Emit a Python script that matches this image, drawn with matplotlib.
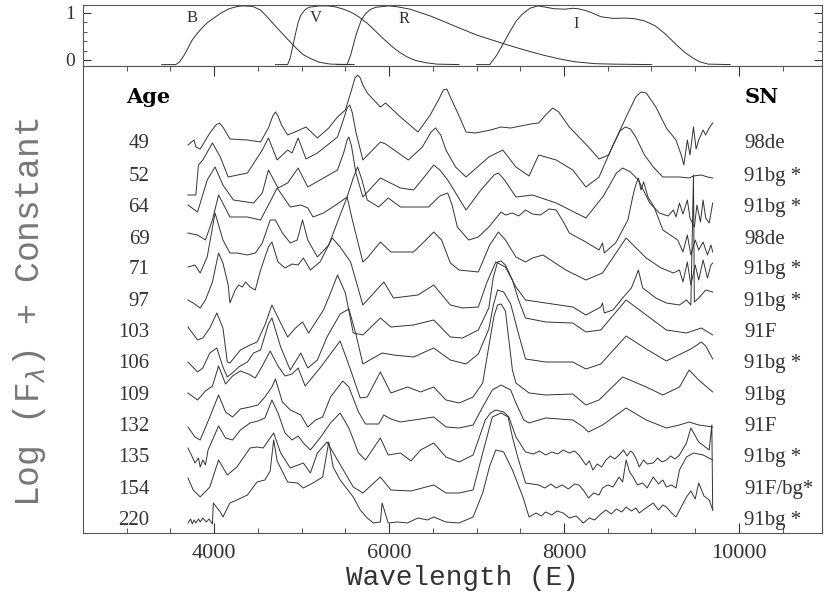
import numpy as np
import matplotlib.pyplot as plt
from matplotlib.ticker import MultipleLocator

# labels of the spectra, top to bottom
ages = ['49', '52', '64', '69', '71', '97', '103', '106', '109', '132', '135', '154', '220']
sn_names = ['98de', '91bg *', '91bg *', '98de', '91bg *', '91bg *', '91F',
            '91bg *', '91bg', '91F', '91bg *', '91F/bg*', '91bg *']
# vertical shift of each spectrum (log units)
offsets = [3.89, 3.56, 3.25, 2.93, 2.63, 2.31, 2.00, 1.69, 1.37, 1.06, 0.75, 0.43, 0.12]

# spectra: wavelength (A) and log flux (units of 0.01 dex)
wl_49 = [3700, 3770, 3790, 3840, 3950, 4020, 4060, 4100, 4180, 4380, 4530, 4620, 4670, 4700, 4730,
         4770, 4840, 4950, 5050, 5180, 5310, 5410, 5500, 5570, 5610, 5640, 5670, 5700, 5750, 5900,
         5960, 6130, 6330, 6470, 6570, 6620, 6660, 6700, 6800, 6880, 6990, 7160, 7280, 7390, 7620,
         7710, 7800, 7870, 7940, 8060, 8280, 8400, 8510, 8710, 8820, 8880, 8940, 9050, 9170, 9280,
         9340, 9370, 9410, 9440, 9480, 9510, 9540, 9590, 9620, 9660, 9700]
fx_49 = [-1, 4, -3, -5, 11, 19, 21, 17, 5, 4, 2, 16, 28, 32, 28,
         19, 9, 13, 17, 6, 16, 27, 34, 54, 66, 69, 66, 59, 51, 37,
         41, 27, 12, 29, 45, 54, 55, 47, 28, 12, 11, 14, 17, 16, 20,
         21, 30, 36, 32, 17, -3, -15, -11, 27, 47, 52, 51, 37, 16, 4,
         -11, -21, 4, -11, 17, -5, 4, 14, 9, 16, 21]

wl_52 = [3700, 3790, 3820, 3870, 3980, 4070, 4160, 4380, 4550, 4620, 4720, 4840, 4890, 4960, 5050,
         5180, 5410, 5480, 5520, 5550, 5580, 5620, 5700, 5900, 5960, 6220, 6380, 6480, 6530, 6590,
         6650, 6760, 6880, 7140, 7300, 7450, 7600, 7710, 7910, 8100, 8250, 8400, 8550, 8640, 8700,
         8760, 8820, 8920, 9020, 9130, 9320, 9430, 9480, 9570, 9640, 9700]
fx_52 = [-18, -18, 12, 17, 34, 20, 0, 4, 27, 39, 17, 27, 24, 39, 18,
         24, 40, 58, 69, 72, 64, 45, 17, 35, 33, 17, 30, 45, 49, 42,
         27, 10, 0, 20, 27, 10, 1, 22, 17, 7, -10, 0, 30, 46, 50,
         48, 40, 22, 10, 0, 0, -1, 1, 2, 0, -1]

wl_64 = [3700, 3810, 3920, 4010, 4100, 4220, 4450, 4550, 4620, 4730, 4840, 4960, 5070, 5210, 5410,
         5480, 5520, 5540, 5570, 5620, 5700, 5900, 6130, 6280, 6420, 6510, 6580, 6670, 6880, 7050,
         7200, 7250, 7320, 7450, 7640, 7910, 8250, 8450, 8600, 8670, 8760, 8850, 8980, 9090, 9190,
         9250, 9280, 9320, 9360, 9410, 9440, 9490, 9520, 9560, 9590, 9620, 9660, 9700]
fx_64 = [3, -4, 28, 41, 23, 8, 5, 15, 38, 20, 25, 40, 21, 28, 38,
         55, 68, 71, 62, 35, 11, 30, 20, 18, 33, 43, 38, 28, -2, 18,
         33, 35, 28, 11, 13, 5, -10, 12, 35, 40, 36, 28, 5, -5, -8,
         -2, -9, 5, -6, 8, -10, -19, 3, -14, 8, -10, -15, 5]

wl_69 = [3700, 3810, 3900, 3980, 4050, 4180, 4380, 4530, 4620, 4720, 4870, 4990, 5070, 5130, 5250,
         5390, 5520, 5590, 5640, 5690, 5750, 5880, 5990, 6130, 6450, 6580, 6670, 6720, 6780, 6910,
         7020, 7140, 7280, 7330, 7410, 7480, 7560, 7640, 7730, 7830, 7910, 8000, 8060, 8250, 8400,
         8440, 8460, 8590, 8730, 8790, 8820, 8850, 8880, 8910, 8960, 9030, 9130, 9300, 9360, 9410,
         9450, 9500, 9540, 9590, 9640, 9680, 9700]
fx_69 = [7, 5, 0, 20, 45, 23, 23, 20, 35, 52, 33, 35, 32, 23, 27,
         35, 43, 62, 73, 60, 40, 33, 42, 33, 33, 44, 47, 35, 13, 0,
         3, 13, 28, 25, 27, 24, 30, 26, 25, 31, 30, 17, 7, -2, -10,
         -3, -13, -3, 20, 45, 55, 62, 50, 58, 43, 33, 10, 0, -12, 5,
         -15, 0, -10, -2, -15, -5, -12]

wl_71 = [3700, 3780, 3840, 3920, 4010, 4100, 4180, 4260, 4380, 4470, 4550, 4640, 4700, 4780, 4870,
         4950, 5010, 5070, 5180, 5310, 5440, 5520, 5580, 5700, 5750, 5900, 6020, 6280, 6420, 6510,
         6600, 6700, 6800, 7020, 7150, 7250, 7330, 7450, 7560, 7640, 7760, 8020, 8250, 8440, 8710,
         8940, 9110, 9250, 9320, 9360, 9410, 9450, 9500, 9540, 9590, 9640, 9680, 9700]
fx_71 = [3, 5, -3, 13, 57, 30, 17, 17, 15, 17, 27, 50, 50, 37, 27,
         30, 50, 30, 13, 25, 55, 73, 50, 8, 12, 28, 18, 18, 30, 38,
         30, 7, 0, -2, 25, 38, 30, 13, 8, 12, 15, 0, -10, -3, 32,
         12, 2, -3, 0, -12, 8, -15, 5, -10, 10, -8, 5, 7]

wl_97 = [3700, 3760, 3840, 3900, 3980, 4050, 4100, 4160, 4180, 4240, 4280, 4320, 4360, 4410, 4470,
         4530, 4620, 4660, 4730, 4810, 4890, 4960, 5020, 5100, 5210, 5350, 5440, 5560, 5700, 5940,
         6050, 6330, 6510, 6700, 6840, 7020, 7120, 7220, 7330, 7450, 7560, 7790, 8100, 8250, 8420,
         8440, 8460, 8560, 8670, 8770, 8820, 8850, 8900, 9050, 9170, 9320, 9400, 9450, 9480, 9490,
         9540, 9620, 9700]
fx_97 = [2, -1, -6, 2, 20, 49, 39, 17, -1, 12, 17, 15, 20, 15, 12,
         32, 55, 60, 40, 34, 38, 37, 44, 32, 40, 64, 55, 40, -3, 20,
         4, 7, 17, -3, -6, -5, 20, 40, 35, 15, 2, -1, -5, -13, -5,
         -1, -11, -8, 4, 14, 25, 32, 14, 4, -1, -3, 2, -3, 127, 0,
         4, 12, 10]

wl_103 = [3700, 3810, 3870, 3950, 4030, 4100, 4150, 4180, 4300, 4410, 4490, 4580, 4660, 4760, 4840,
          4930, 5010, 5080, 5250, 5330, 5410, 5500, 5590, 5700, 5900, 6020, 6280, 6510, 6700, 6840,
          7020, 7140, 7190, 7240, 7280, 7330, 7410, 7480, 7560, 7790, 8100, 8250, 8420, 8710, 8940,
          9170, 9400, 9570, 9700]
fx_103 = [6, -7, -5, 5, 20, 5, -29, -30, -17, -12, -9, 8, 28, 10, -4,
          5, 11, 0, 23, 40, 58, 40, 0, -2, 15, 6, 8, 13, -4, -5,
          3, 25, 55, 71, 72, 68, 53, 33, 15, 11, 10, 1, 3, 33, 18,
          3, 0, 5, -2]

wl_106 = [3700, 3810, 3870, 3950, 4030, 4100, 4150, 4220, 4280, 4380, 4450, 4530, 4620, 4660, 4760,
          4870, 4990, 5070, 5180, 5290, 5440, 5540, 5620, 5700, 5920, 6050, 6280, 6510, 6700, 6880,
          7020, 7140, 7190, 7240, 7310, 7390, 7480, 7560, 7790, 8100, 8250, 8420, 8710, 8940, 9170,
          9450, 9570, 9620, 9700]
fx_106 = [2, -8, -4, 11, 16, -3, -13, -8, -3, 2, 11, 14, 40, 46, 17,
          -6, 11, -4, 4, 27, 50, 55, 30, 0, 11, 9, 7, 16, 4, 0,
          10, 35, 58, 74, 72, 60, 30, 5, 2, 2, -5, 0, 28, 15, 3,
          15, 22, 18, 5]

wl_109 = [3700, 3810, 3900, 3980, 4050, 4130, 4210, 4300, 4390, 4470, 4550, 4640, 4730, 4810, 4890,
          4960, 5040, 5210, 5440, 5560, 5670, 5750, 5900, 6020, 6210, 6360, 6510, 6650, 6800, 6960,
          7070, 7160, 7200, 7240, 7280, 7330, 7410, 7450, 7600, 7790, 8100, 8250, 8400, 8670, 8940,
          9130, 9320, 9430, 9540, 9700]
fx_109 = [3, -4, 5, 10, 30, 12, 20, 25, 22, 18, 30, 45, 30, 20, 22,
          28, 10, 28, 55, 26, -2, -1, 24, 3, 9, 4, 9, -4, -7, -1,
          13, 60, 80, 91, 92, 85, 26, 13, 3, 1, 2, -9, -4, 19, 9,
          1, 9, 26, 16, 4]

wl_132 = [3700, 3780, 3840, 3950, 4050, 4130, 4210, 4300, 4410, 4500, 4580, 4660, 4700, 4780, 4870,
          4990, 5070, 5160, 5240, 5330, 5470, 5540, 5650, 5730, 5880, 5940, 6020, 6130, 6360, 6510,
          6650, 6800, 6960, 7070, 7180, 7280, 7390, 7450, 7540, 7600, 7790, 8100, 8220, 8280, 8440,
          8710, 8940, 9170, 9320, 9430, 9540, 9700]
fx_132 = [0, -10, -13, 10, 32, 15, 10, 18, 20, 22, 30, 40, 48, 25, 17,
          12, 0, 7, 10, 30, 46, 40, 15, 3, 3, 12, 8, 5, 8, 10,
          0, -1, 2, 20, 37, 42, 37, 24, 7, 4, 9, 7, 0, -5, 2,
          19, 7, -1, 2, 5, 2, 0]

wl_135 = [3700, 3750, 3780, 3820, 3840, 3870, 3900, 3930, 3980, 4050, 4130, 4210, 4300, 4410, 4500,
          4580, 4660, 4730, 4810, 4890, 4960, 5020, 5100, 5210, 5330, 5440, 5540, 5650, 5730, 5900,
          5990, 6130, 6250, 6360, 6510, 6650, 6800, 6960, 7100, 7160, 7220, 7310, 7370, 7450, 7560,
          7650, 7720, 7790, 7860, 7930, 7990, 8060, 8120, 8170, 8250, 8290, 8330, 8380, 8430, 8480,
          8530, 8580, 8630, 8680, 8720, 8760, 8790, 8830, 8860, 8910, 8950, 9020, 9070, 9120, 9170,
          9220, 9270, 9320, 9400, 9450, 9540, 9660, 9690, 9700]
fx_135 = [10, 1, -5, 0, -9, -2, -7, 8, 18, 32, 20, 18, 28, 35, 37,
          40, 58, 45, 25, 18, 22, 15, 8, 20, 35, 45, 30, 5, -2, 20,
          3, 5, -3, 8, 15, 1, -4, 3, 38, 45, 48, 46, 41, 21, 6,
          4, 7, 3, 6, 4, 8, 5, 7, 3, -7, -3, -12, -6, -9, -2,
          2, -1, 3, 8, 2, 7, 5, -2, -9, -2, -6, -5, 0, -4, -2,
          2, -1, 3, 15, 30, 16, 8, 33, -52]

wl_154 = [3700, 3760, 3840, 3950, 4050, 4150, 4260, 4410, 4490, 4560, 4680, 4760, 4870, 4960, 5020,
          5100, 5180, 5290, 5410, 5590, 5700, 5900, 6020, 6250, 6510, 6650, 6800, 6960, 7070, 7180,
          7280, 7360, 7410, 7470, 7560, 7710, 7780, 7850, 7910, 7980, 8050, 8120, 8170, 8220, 8280,
          8340, 8400, 8440, 8500, 8560, 8630, 8670, 8710, 8750, 8790, 8840, 8900, 8950, 9020, 9080,
          9130, 9170, 9230, 9280, 9320, 9400, 9480, 9590, 9700]
fx_154 = [12, 0, -7, 3, 30, 15, 23, 42, 43, 42, 57, 37, 22, 25, 27,
          17, 37, 48, 30, 3, -3, 13, 0, -1, 5, -3, -3, 0, 37, 73,
          77, 73, 53, 33, 7, 5, 2, 6, 2, 5, 1, 6, 5, 0, -8,
          -3, -5, 2, 5, 3, 13, 8, 30, 18, 13, 5, 7, 2, 13, 6,
          10, 3, 5, 2, 20, 33, 37, 35, 30]

wl_220 = [3700, 3730, 3750, 3770, 3790, 3820, 3840, 3870, 3910, 3940, 3980, 3990, 4070, 4100, 4180,
          4260, 4380, 4490, 4580, 4640, 4680, 4720, 4760, 4840, 4950, 5020, 5130, 5240, 5310, 5360,
          5440, 5590, 5670, 5750, 5820, 5900, 5920, 5990, 6100, 6210, 6330, 6440, 6510, 6650, 6800,
          6960, 7070, 7150, 7220, 7310, 7410, 7530, 7600, 7680, 7740, 7790, 7860, 7920, 7990, 8060,
          8140, 8220, 8290, 8350, 8420, 8480, 8540, 8600, 8660, 8710, 8770, 8820, 8860, 8920, 8970,
          9020, 9080, 9130, 9170, 9230, 9280, 9340, 9400, 9450, 9500, 9540, 9600, 9660, 9700]
fx_220 = [-2, 2, -3, 1, -2, 2, -1, 3, -1, 2, -3, 18, 9, 4, 18,
          21, 26, 39, 41, 50, 81, 60, 53, 39, 38, 33, 38, 44, 79, 54,
          41, 24, 11, 3, -2, -1, 18, -2, -1, -2, 3, 1, 4, -1, -2,
          4, 28, 55, 71, 69, 51, 24, 4, 8, 5, 9, 6, 10, 8, 3,
          5, -2, 3, 1, 7, 11, 7, 12, 9, 14, 10, 13, 8, 12, 15,
          18, 11, 16, 14, 8, 4, 14, 24, 30, 22, 38, 25, 21, 11]

spectra = [(wl_49, fx_49), (wl_52, fx_52), (wl_64, fx_64), (wl_69, fx_69), (wl_71, fx_71),
           (wl_97, fx_97), (wl_103, fx_103), (wl_106, fx_106), (wl_109, fx_109),
           (wl_132, fx_132), (wl_135, fx_135), (wl_154, fx_154), (wl_220, fx_220)]

# filter transmission curves (top panel)
wl_B = [3400, 3560, 3600, 3650, 3700, 3740, 3800, 3860, 3920, 3990, 4080, 4170, 4250, 4320, 4440,
        4530, 4600, 4690, 4780, 4850, 4900, 4960, 5020, 5100, 5200, 5330, 5600]
tr_B = [-0.1, -0.1, -0.05, 0.08, 0.25, 0.40, 0.55, 0.68, 0.79, 0.885, 1.0, 1.09, 1.13, 1.15, 1.14,
        1.06, 0.93, 0.74, 0.56, 0.42, 0.32, 0.21, 0.11, 0.03, -0.05, -0.09, -0.1]
wl_V = [4700, 4840, 4870, 4900, 4930, 4960, 4990, 5040, 5080, 5200, 5300, 5385, 5480, 5570, 5660,
        5750, 5840, 5935, 6030, 6120, 6210, 6300, 6420, 6545, 6800]
tr_V = [-0.1, -0.1, 0.05, 0.30, 0.56, 0.80, 0.95, 1.07, 1.12, 1.15, 1.15, 1.13, 1.08, 1.01, 0.91,
        0.78, 0.62, 0.45, 0.29, 0.16, 0.06, -0.01, -0.06, -0.09, -0.1]
wl_R = [5400, 5520, 5560, 5600, 5630, 5680, 5720, 5780, 5845, 5995, 6100, 6240, 6480, 6725, 7000,
        7335, 7550, 7765, 7950, 8125, 8350, 8560, 9000]
tr_R = [-0.1, -0.1, 0.1, 0.38, 0.58, 0.84, 0.96, 1.07, 1.12, 1.15, 1.13, 1.08, 0.93, 0.74, 0.53,
        0.33, 0.21, 0.10, 0.02, -0.04, -0.08, -0.09, -0.1]
wl_I = [7000, 7150, 7230, 7300, 7380, 7450, 7520, 7610, 7700, 7800, 7885, 8010, 8100, 8160, 8250,
        8310, 8420, 8560, 8700, 8800, 8920, 9040, 9160, 9280, 9380, 9465, 9550, 9650, 9900]
tr_I = [-0.1, -0.1, 0.10, 0.33, 0.60, 0.82, 0.97, 1.10, 1.15, 1.12, 1.09, 1.08, 1.10, 1.09, 1.05,
        1.01, 0.92, 0.885, 0.89, 0.88, 0.83, 0.73, 0.55, 0.33, 0.16, 0.05, -0.04, -0.09, -0.1]
filter_names = ['B', 'V', 'R', 'I']
filter_label_wl = [3750, 5160, 6170, 8140]
filter_label_y = [0.89, 0.89, 0.87, 0.77]

ink = '#333333'
serif = ['Liberation Serif', 'DejaVu Serif']

fig = plt.figure(figsize=(8.3, 5.93), dpi=100)
ax_top = fig.add_axes([0.1, 0.8887, 0.8904, 0.1029])
ax = fig.add_axes([0.1, 0.1012, 0.8904, 0.7875])

# filter panel
for wl, tr in [(wl_B, tr_B), (wl_V, tr_V), (wl_R, tr_R), (wl_I, tr_I)]:
    ax_top.plot(wl, tr, color=ink, lw=0.7)
for name, lx, ly in zip(filter_names, filter_label_wl, filter_label_y):
    ax_top.text(lx, ly, name, fontsize=12, family=serif, color=ink, ha='center', va='center')
ax_top.set_xlim(2500, 10950)
ax_top.set_ylim(-0.13, 1.17)
ax_top.set_xticks([])
ax_top.set_yticks([0, 1])
ax_top.yaxis.set_minor_locator(MultipleLocator(0.2))
ax_top.tick_params(axis='y', which='both', direction='in', right=True, labelsize=14,
                   colors=ink, pad=6)
ax_top.tick_params(axis='y', which='major', length=6)
ax_top.tick_params(axis='y', which='minor', length=3)
for lab in ax_top.get_yticklabels():
    lab.set_family(serif)

# spectra panel
for (wl, fx), off in zip(spectra, offsets):
    ax.plot(wl, np.array(fx) * 0.01 + off, color=ink, lw=0.7)

for age, name, off in zip(ages, sn_names, offsets):
    ax.text(3260, off, age, fontsize=15, family=serif, color=ink, ha='right', va='center')
    ax.text(10060, off, name, fontsize=15, family=serif, color=ink, ha='left', va='center')
ax.text(2990, 4.36, 'Age', fontsize=15, family='DejaVu Serif', weight='bold', ha='left', va='center')
ax.text(10060, 4.36, 'SN', fontsize=15, family='DejaVu Serif', weight='bold', ha='left', va='center')

ax.set_xlim(2500, 10950)
ax.set_ylim(0, 4.67)
ax.set_yticks([])
ax.xaxis.set_major_locator(MultipleLocator(2000))
ax.xaxis.set_minor_locator(MultipleLocator(500))
ax.tick_params(axis='x', which='both', direction='in', top=True, colors=ink, labelsize=16, pad=8)
ax.tick_params(axis='x', which='major', length=7)
ax.tick_params(axis='x', which='minor', length=3.5)
for lab in ax.get_xticklabels():
    lab.set_family(serif)

for a in (ax, ax_top):
    for sp in a.spines.values():
        sp.set_color('#555555')
        sp.set_linewidth(0.8)

fig.text(0.557, 0.025, 'Wavelength (E)', fontsize=20, family='Liberation Mono', color=ink,
         ha='center', va='center')
fig.text(0.036, 0.474, r'Log (F$_{\lambda}$) + Constant', fontsize=25, family='Liberation Mono',
         color='#777777', rotation=90, ha='center', va='center')

fig.savefig('out.png', dpi=100)
